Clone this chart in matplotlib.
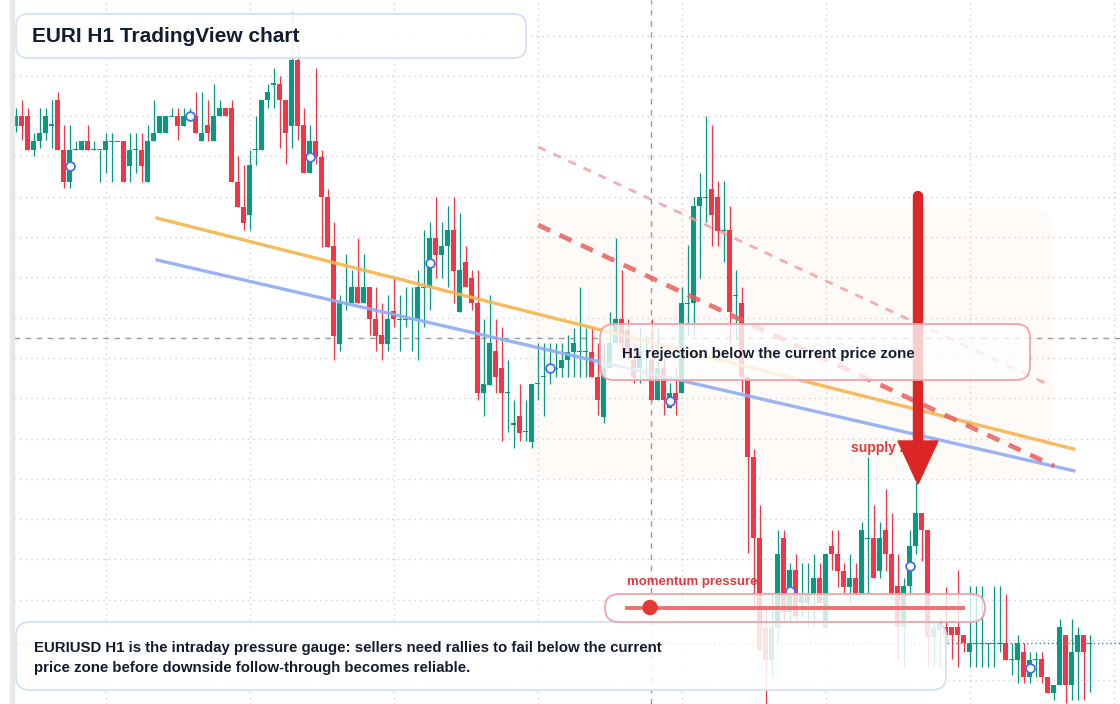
import numpy as np
import matplotlib
matplotlib.use('Agg')
import matplotlib.pyplot as plt
from matplotlib.patches import FancyBboxPatch, Polygon, Circle, Rectangle
from matplotlib.transforms import IdentityTransform

plt.rcParams['font.family'] = ['Liberation Sans', 'DejaVu Sans']

W, H = 1120, 704

## H1 candles, oldest -> newest ##
opens = [
    1.08776, 1.08800, 1.08800, 1.08717, 1.08738, 1.08758, 1.08778, 1.08840, 1.08717, 1.08637,
    1.08717, 1.08717, 1.08738, 1.08717, 1.08717, 1.08717, 1.08738, 1.08738, 1.08738, 1.08677,
    1.08717, 1.08717, 1.08637, 1.08738, 1.08758, 1.08758, 1.08800, 1.08800, 1.08776, 1.08800,
    1.08800, 1.08738, 1.08777, 1.08738, 1.08800, 1.08820, 1.08820, 1.08637, 1.08575, 1.08555,
    1.08717, 1.08717, 1.08840, 1.08880, 1.08880, 1.08840, 1.08776, 1.08940, 1.08777, 1.08658,
    1.08738, 1.08698, 1.08599, 1.08478, 1.08235, 1.08336, 1.08336, 1.08375, 1.08336, 1.08375,
    1.08296, 1.08257, 1.08235, 1.08317, 1.08296, 1.08296, 1.08296, 1.08296, 1.08375, 1.08375,
    1.08497, 1.08456, 1.08478, 1.08518, 1.08315, 1.08439, 1.08398, 1.08336, 1.08114, 1.08133,
    1.08218, 1.08174, 1.08114, 1.08036, 1.08056, 1.08017, 1.07992, 1.08136, 1.08155, 1.08174,
    1.08174, 1.08174, 1.08195, 1.08216, 1.08216, 1.08216, 1.08216, 1.08154, 1.08054, 1.08174,
    1.08237, 1.08296, 1.08270, 1.08195, 1.08174, 1.08216, 1.08195, 1.08096, 1.08174, 1.08075,
    1.08114, 1.08114, 1.08336, 1.08336, 1.08577, 1.08599, 1.08619, 1.08599, 1.08516, 1.08518,
    1.08355, 1.08336, 1.08154, 1.07955, 1.07753, 1.07533, 1.07451, 1.07531, 1.07753, 1.07570,
    1.07674, 1.07591, 1.07591, 1.07614, 1.07653, 1.07531, 1.07733, 1.07713, 1.07672, 1.07632,
    1.07653, 1.07614, 1.07753, 1.07753, 1.07672, 1.07773, 1.07713, 1.07634, 1.07533, 1.07634,
    1.07733, 1.07815, 1.07773, 1.07508, 1.07525, 1.07532, 1.07532, 1.07532, 1.07512, 1.07471,
    1.07492, 1.07492, 1.07492, 1.07492, 1.07492, 1.07492, 1.07452, 1.07451, 1.07471, 1.07409,
    1.07452, 1.07452, 1.07409, 1.07369, 1.07389, 1.07512, 1.07389, 1.07471, 1.07512, 1.07492]
highs = [
    1.08820, 1.08840, 1.08820, 1.08758, 1.08820, 1.08820, 1.08840, 1.08860, 1.08777, 1.08777,
    1.08738, 1.08738, 1.08777, 1.08738, 1.08717, 1.08758, 1.08758, 1.08738, 1.08738, 1.08758,
    1.08758, 1.08758, 1.08777, 1.08840, 1.08800, 1.08800, 1.08820, 1.08820, 1.08820, 1.08820,
    1.08860, 1.08860, 1.08840, 1.08880, 1.08840, 1.08820, 1.08840, 1.08700, 1.08679, 1.08717,
    1.08800, 1.08840, 1.08880, 1.08920, 1.08900, 1.08840, 1.09059, 1.08982, 1.08820, 1.08777,
    1.08920, 1.08717, 1.08619, 1.08538, 1.08356, 1.08458, 1.08418, 1.08497, 1.08458, 1.08375,
    1.08375, 1.08336, 1.08356, 1.08398, 1.08356, 1.08375, 1.08375, 1.08418, 1.08518, 1.08538,
    1.08600, 1.08538, 1.08577, 1.08600, 1.08560, 1.08478, 1.08418, 1.08418, 1.08296, 1.08356,
    1.08296, 1.08278, 1.08195, 1.08096, 1.08136, 1.08096, 1.08136, 1.08237, 1.08237, 1.08237,
    1.08237, 1.08237, 1.08257, 1.08275, 1.08377, 1.08275, 1.08275, 1.08237, 1.08237, 1.08315,
    1.08497, 1.08418, 1.08296, 1.08237, 1.08275, 1.08257, 1.08296, 1.08275, 1.08195, 1.08137,
    1.08174, 1.08377, 1.08480, 1.08600, 1.08658, 1.08800, 1.08778, 1.08639, 1.08639, 1.08577,
    1.08418, 1.08377, 1.08154, 1.07973, 1.07835, 1.07587, 1.07617, 1.07773, 1.07773, 1.07692,
    1.07713, 1.07692, 1.07692, 1.07713, 1.07692, 1.07713, 1.07773, 1.07773, 1.07692, 1.07713,
    1.07692, 1.07792, 1.07954, 1.07835, 1.07792, 1.07874, 1.07815, 1.07713, 1.07653, 1.07773,
    1.07893, 1.07815, 1.07773, 1.07550, 1.07555, 1.07632, 1.07532, 1.07674, 1.07512, 1.07634,
    1.07634, 1.07634, 1.07492, 1.07634, 1.07634, 1.07614, 1.07492, 1.07512, 1.07492, 1.07471,
    1.07471, 1.07471, 1.07409, 1.07389, 1.07552, 1.07512, 1.07552, 1.07532, 1.07512, 1.07512]
lows = [
    1.08760, 1.08741, 1.08716, 1.08700, 1.08720, 1.08741, 1.08720, 1.08716, 1.08621, 1.08621,
    1.08717, 1.08717, 1.08717, 1.08717, 1.08637, 1.08658, 1.08637, 1.08738, 1.08637, 1.08637,
    1.08658, 1.08637, 1.08637, 1.08738, 1.08758, 1.08758, 1.08800, 1.08741, 1.08776, 1.08791,
    1.08758, 1.08738, 1.08738, 1.08738, 1.08800, 1.08800, 1.08637, 1.08575, 1.08518, 1.08518,
    1.08679, 1.08717, 1.08820, 1.08820, 1.08720, 1.08681, 1.08720, 1.08741, 1.08658, 1.08658,
    1.08681, 1.08476, 1.08476, 1.08195, 1.08218, 1.08319, 1.08336, 1.08336, 1.08336, 1.08257,
    1.08218, 1.08195, 1.08218, 1.08278, 1.08218, 1.08278, 1.08218, 1.08195, 1.08278, 1.08319,
    1.08398, 1.08398, 1.08375, 1.08336, 1.08315, 1.08375, 1.08319, 1.08096, 1.08056, 1.08133,
    1.08114, 1.07995, 1.08017, 1.07976, 1.07995, 1.07995, 1.07976, 1.08096, 1.08056, 1.08136,
    1.08154, 1.08154, 1.08154, 1.08154, 1.08154, 1.08154, 1.08154, 1.08059, 1.08038, 1.08174,
    1.08237, 1.08212, 1.08195, 1.08137, 1.08137, 1.08154, 1.08096, 1.08096, 1.08059, 1.08075,
    1.08059, 1.08114, 1.08257, 1.08257, 1.08398, 1.08538, 1.08479, 1.08479, 1.08439, 1.08238,
    1.08245, 1.08116, 1.07716, 1.07575, 1.07475, 1.07341, 1.07409, 1.07492, 1.07550, 1.07550,
    1.07550, 1.07560, 1.07533, 1.07533, 1.07591, 1.07531, 1.07674, 1.07632, 1.07612, 1.07591,
    1.07614, 1.07614, 1.07614, 1.07653, 1.07653, 1.07672, 1.07614, 1.07452, 1.07434, 1.07614,
    1.07713, 1.07695, 1.07434, 1.07434, 1.07434, 1.07492, 1.07452, 1.07434, 1.07471, 1.07434,
    1.07434, 1.07434, 1.07434, 1.07434, 1.07471, 1.07451, 1.07413, 1.07393, 1.07393, 1.07393,
    1.07409, 1.07393, 1.07369, 1.07351, 1.07389, 1.07344, 1.07351, 1.07351, 1.07351, 1.07372]
closes = [
    1.08800, 1.08776, 1.08717, 1.08738, 1.08758, 1.08800, 1.08778, 1.08717, 1.08637, 1.08717,
    1.08717, 1.08738, 1.08717, 1.08717, 1.08717, 1.08738, 1.08738, 1.08738, 1.08637, 1.08717,
    1.08717, 1.08677, 1.08738, 1.08758, 1.08800, 1.08800, 1.08800, 1.08776, 1.08800, 1.08800,
    1.08758, 1.08758, 1.08758, 1.08800, 1.08820, 1.08800, 1.08637, 1.08575, 1.08536, 1.08679,
    1.08717, 1.08840, 1.08860, 1.08880, 1.08840, 1.08758, 1.08940, 1.08776, 1.08658, 1.08738,
    1.08698, 1.08599, 1.08476, 1.08255, 1.08336, 1.08336, 1.08375, 1.08336, 1.08375, 1.08296,
    1.08255, 1.08235, 1.08296, 1.08296, 1.08296, 1.08296, 1.08296, 1.08375, 1.08375, 1.08497,
    1.08456, 1.08478, 1.08518, 1.08417, 1.08418, 1.08375, 1.08336, 1.08114, 1.08136, 1.08237,
    1.08154, 1.08114, 1.08114, 1.08036, 1.08015, 1.08017, 1.08136, 1.08136, 1.08155, 1.08174,
    1.08174, 1.08195, 1.08216, 1.08237, 1.08216, 1.08216, 1.08154, 1.08096, 1.08174, 1.08237,
    1.08296, 1.08237, 1.08220, 1.08154, 1.08216, 1.08216, 1.08096, 1.08174, 1.08096, 1.08114,
    1.08096, 1.08336, 1.08336, 1.08577, 1.08599, 1.08599, 1.08555, 1.08516, 1.08516, 1.08315,
    1.08355, 1.08154, 1.07955, 1.07753, 1.07475, 1.07451, 1.07533, 1.07713, 1.07570, 1.07674,
    1.07560, 1.07614, 1.07614, 1.07653, 1.07591, 1.07713, 1.07713, 1.07672, 1.07632, 1.07653,
    1.07614, 1.07773, 1.07753, 1.07653, 1.07753, 1.07713, 1.07614, 1.07533, 1.07634, 1.07733,
    1.07815, 1.07773, 1.07508, 1.07533, 1.07545, 1.07513, 1.07513, 1.07512, 1.07492, 1.07492,
    1.07492, 1.07492, 1.07492, 1.07492, 1.07492, 1.07451, 1.07452, 1.07492, 1.07409, 1.07451,
    1.07452, 1.07409, 1.07369, 1.07389, 1.07532, 1.07389, 1.07471, 1.07512, 1.07471, 1.07492]

marker_bars = [9, 29, 49, 69, 89, 109, 129, 149, 169]

## drawn studies (bar index, price) ##
orange_x, orange_y = [23.6, 176.4], [1.08547, 1.07974]
blue_x, blue_y = [23.6, 176.4], [1.08443, 1.07920]
chan_mid_x, chan_mid_y = [87.1, 173.1], [1.08530, 1.07932]
chan_top_x, chan_top_y = [87.1, 172.75], [1.08724, 1.08130]
cross_price, cross_bar = 1.08250, 105.9
arrow_x, arrow_tail, arrow_base, arrow_tip, arrow_half = 150.4, 1.08602, 1.07994, 1.07887, 3.33
supply_x, supply_y = 139.25, 1.07977

UP, DOWN = '#089981', '#f23645'

fig = plt.figure(figsize=(W / 100, H / 100), dpi=100)
ax = fig.add_axes([14 / W, 0, 1 - 14 / W, 1])
for s in ax.spines.values():
    s.set_visible(False)
ax.set_xticks(np.arange(15, 184, 24))
ax.set_yticks(np.arange(1.074, 1.0905, 0.001))
ax.tick_params(length=0, labelleft=False, labelbottom=False)
ax.set_xlim(-0.25, 184.08)
ax.set_ylim(1.073414, 1.090883)
ax.grid(True, color='#d2d2d2', linestyle=(0, (1, 3)), linewidth=1)
ax.set_axisbelow(True)

fig.patches.append(Rectangle((10 / W, 0), 3.5 / W, 1, transform=fig.transFigure,
                             color='#e8e8e8', zorder=0))


def px_box(x, y, w, h, r, **kw):
    return FancyBboxPatch((x, H - y - h), w, h, boxstyle=f'round,pad=0,rounding_size={r}',
                          transform=IdentityTransform(), **kw)


# faint supply zone
ax.add_patch(px_box(527, 207, 525, 271, 22, facecolor='#fdfaf7', edgecolor='none', zorder=0.3))

# crosshair + last price
ax.axhline(cross_price, color='#9a9a9a', lw=1, linestyle=(0, (4, 4)), zorder=1.5)
ax.axvline(cross_bar, color='#9a9a9a', lw=1, linestyle=(0, (4, 4)), zorder=1.5)
ax.axhline(closes[-1], color=UP, lw=1, linestyle=(0, (1, 2)), zorder=1.6)

## candles ##
o = np.array(opens); hi = np.array(highs); lo = np.array(lows); c = np.array(closes)
idx = np.arange(len(o))
col = np.where(c >= o, UP, DOWN)
ax.vlines(idx, lo, hi, colors=col, linewidth=0.9, zorder=2)
min_h = 0.00003
body_h = np.maximum(np.abs(c - o), min_h)
body_b = np.where(np.abs(c - o) < min_h, (o + c) / 2 - min_h / 2, np.minimum(o, c))
ax.bar(idx, body_h, bottom=body_b, width=0.75, color=col, linewidth=0, zorder=2.1)

mb = np.array(marker_bars)
ax.scatter(mb, (o[mb] + c[mb]) / 2, s=40, facecolor='white', edgecolor='#3d73ef',
           linewidth=1.3, zorder=3)

## trend lines ##
ax.plot(orange_x, orange_y, color='#f7b44c', lw=2.4, alpha=0.9, zorder=3.2)
ax.plot(blue_x, blue_y, color='#8eacf4', lw=2.4, alpha=0.9, zorder=3.2)
ax.plot(chan_mid_x, chan_mid_y, color='#e95f5f', lw=3.4, alpha=0.85,
        linestyle=(0, (2.8, 2.2)), zorder=3.3)
ax.plot(chan_top_x, chan_top_y, color='#f09a9a', lw=2, alpha=0.8,
        linestyle=(0, (3, 3)), zorder=3.3)

ax.text(supply_x, supply_y, 'supply zone', color='#e5383b', fontsize=10,
        fontweight='bold', va='center', zorder=4)

# big arrow
ax.plot([arrow_x, arrow_x], [arrow_tail, arrow_base], color='#dc2626', lw=7.5,
        solid_capstyle='round', zorder=5)
ax.add_patch(Polygon([[arrow_x - arrow_half, arrow_base], [arrow_x + arrow_half, arrow_base],
                      [arrow_x, arrow_tip]], closed=True, color='#dc2626', zorder=5))

## annotation boxes ##
ax.add_patch(px_box(16, 14, 510, 44, 12, facecolor=(1, 1, 1, 0.92), edgecolor='#d3e2f6',
                    lw=1.3, zorder=6))
ax.add_patch(px_box(600, 324, 430, 56, 14, facecolor=(1, 1, 1, 0.78), edgecolor='#f2a3aa',
                    lw=1.3, zorder=6))
ax.add_patch(px_box(16, 622, 930, 68, 14, facecolor=(1, 1, 1, 0.86), edgecolor='#d3e2f6',
                    lw=1.3, zorder=6))
ax.add_patch(px_box(605, 594, 380, 28, 14, facecolor=(1, 1, 1, 0.8), edgecolor='#f2a3aa',
                    lw=1.3, zorder=7))
ax.plot([627, 963], [H - 607.5, H - 607.5], transform=IdentityTransform(), color='#ef7070',
        lw=2.8, zorder=7.1)
ax.add_patch(Circle((650, H - 607.5), 7, transform=IdentityTransform(), color='#e53935',
                    zorder=7.2))

dark = '#131c2e'
fig.text(32 / W, 1 - 36 / H, 'EURI H1 TradingView chart', fontsize=15, fontweight='bold',
         color=dark, va='center')
fig.text(622 / W, 1 - 354 / H, 'H1 rejection below the current price zone', fontsize=10.8,
         fontweight='bold', color=dark, va='center')
fig.text(627 / W, 1 - 582 / H, 'momentum pressure', fontsize=9.5, fontweight='bold',
         color='#e5383b', va='center')
fig.text(34 / W, 1 - 648 / H, 'EURIUSD H1 is the intraday pressure gauge: sellers need rallies '
         'to fail below the current', fontsize=10.8, fontweight='bold', color=dark, va='center')
fig.text(34 / W, 1 - 668 / H, 'price zone before downside follow-through becomes reliable.',
         fontsize=10.8, fontweight='bold', color=dark, va='center')

fig.savefig('out.png', dpi=100)
